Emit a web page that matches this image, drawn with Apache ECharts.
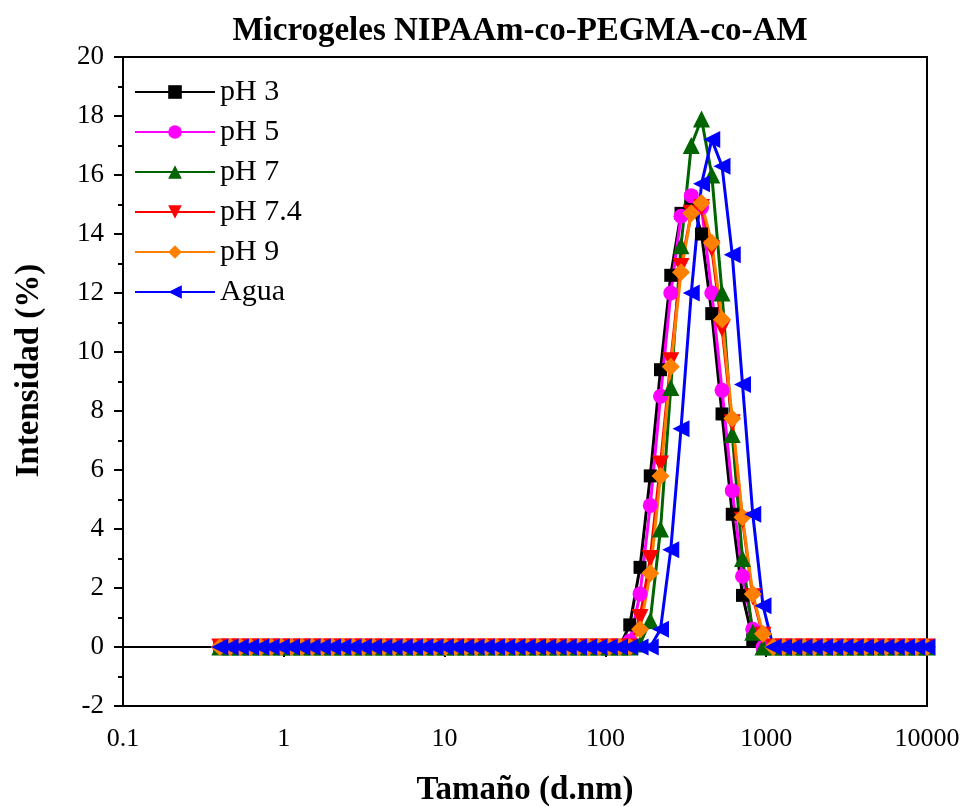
<!doctype html>
<html>
<head>
<meta charset="UTF-8">
<title>Microgeles NIPAAm-co-PEGMA-co-AM</title>
<script src="https://cdn.jsdelivr.net/npm/echarts@6/dist/echarts.min.js"></script>
<style>
  html, body { margin: 0; padding: 0; background: #fff; }
  #main { width: 966px; height: 807px; }
</style>
</head>
<body>
<div id="main"></div>
<script>
// clases de tamaño (d.nm) del equipo DLS
var sizes = [0.4, 0.4632, 0.5365, 0.6213, 0.7195, 0.8332, 0.9649, 1.117, 1.294, 1.499,
  1.736, 2.01, 2.328, 2.696, 3.122, 3.615, 4.187, 4.849, 5.615, 6.503,
  7.531, 8.721, 10.1, 11.7, 13.54, 15.69, 18.17, 21.04, 24.36, 28.21,
  32.67, 37.84, 43.82, 50.75, 58.77, 68.06, 78.82, 91.28, 105.7, 122.4,
  141.8, 164.2, 190.1, 220.2, 255.0, 295.3, 342.0, 396.1, 458.7, 531.2,
  615.1, 712.4, 825.0, 955.4, 1106, 1281, 1484, 1718, 1990, 2305,
  2669, 3091, 3580, 4145, 4801, 5560, 6439, 7456, 8635, 10000];

// intensidad (%)
var pH3 = [0,0,0,0,0,0,0,0,0,0, 0,0,0,0,0,0,0,0,0,0, 0,0,0,0,0,0,0,0,0,0, 0,0,0,0,0,0,0,0,0,0,
  0.75, 2.7, 5.8, 9.4, 12.6, 14.7, 15.2, 14.0, 11.3, 7.9, 4.5, 1.75, 0.25, 0,
  0,0,0,0,0,0,0,0,0,0,0,0,0,0,0,0];
var pH5 = [0,0,0,0,0,0,0,0,0,0, 0,0,0,0,0,0,0,0,0,0, 0,0,0,0,0,0,0,0,0,0, 0,0,0,0,0,0,0,0,0,0,
  0.2, 1.8, 4.8, 8.5, 12.0, 14.6, 15.3, 14.9, 12.0, 8.7, 5.3, 2.4, 0.6, 0,
  0,0,0,0,0,0,0,0,0,0,0,0,0,0,0,0];
var pH7 = [0,0,0,0,0,0,0,0,0,0, 0,0,0,0,0,0,0,0,0,0, 0,0,0,0,0,0,0,0,0,0, 0,0,0,0,0,0,0,0,0,0,
  0, 0.1, 0.9, 4.0, 8.8, 13.6, 17.0, 17.9, 16.0, 12.0, 7.2, 3.0, 0.5, 0,
  0,0,0,0,0,0,0,0,0,0,0,0,0,0,0,0];
var pH74 = [0,0,0,0,0,0,0,0,0,0, 0,0,0,0,0,0,0,0,0,0, 0,0,0,0,0,0,0,0,0,0, 0,0,0,0,0,0,0,0,0,0,
  0, 1.0, 3.0, 6.2, 9.7, 12.9, 14.7, 14.9, 13.5, 10.8, 7.6, 4.3, 1.7, 0.4,
  0,0,0,0,0,0,0,0,0,0,0,0,0,0,0,0];
var pH9 = [0,0,0,0,0,0,0,0,0,0, 0,0,0,0,0,0,0,0,0,0, 0,0,0,0,0,0,0,0,0,0, 0,0,0,0,0,0,0,0,0,0,
  0, 0.6, 2.5, 5.8, 9.5, 12.7, 14.7, 15.05, 13.7, 11.1, 7.75, 4.4, 1.8, 0.45,
  0,0,0,0,0,0,0,0,0,0,0,0,0,0,0,0];
var agua = [0,0,0,0,0,0,0,0,0,0, 0,0,0,0,0,0,0,0,0,0, 0,0,0,0,0,0,0,0,0,0, 0,0,0,0,0,0,0,0,0,0,
  0, 0, 0, 0.6, 3.3, 7.4, 12.0, 15.7, 17.2, 16.3, 13.3, 8.9, 4.5, 1.4,
  0,0,0,0,0,0,0,0,0,0,0,0,0,0,0,0];

var xTickLabels = ['0.1', '1', '10', '100', '1000', '10000'];

var FONT = 'Liberation Serif';

function pares(vals) {
  var out = [];
  for (var i = 0; i < sizes.length; i++) out.push([sizes[i], vals[i]]);
  return out;
}

function serie(name, vals, color, symbol, rot, size) {
  return {
    name: name,
    type: 'line',
    data: pares(vals),
    symbol: symbol,
    symbolRotate: rot,
    symbolSize: size,
    showAllSymbol: true,
    lineStyle: { color: color, width: 3 },
    itemStyle: { color: color },
    emphasis: { disabled: true },
    animation: false
  };
}

var myChart = echarts.init(document.getElementById('main'));

var option = {
  backgroundColor: '#fff',
  title: {
    text: 'Microgeles NIPAAm-co-PEGMA-co-AM',
    left: 515,
    textAlign: 'center',
    top: 10,
    textStyle: { fontFamily: FONT, fontWeight: 'bold', fontSize: 33, color: '#000' }
  },
  legend: {
    orient: 'vertical',
    left: 129,
    top: 72,
    itemWidth: 80,
    itemHeight: 17,
    itemGap: 10,
    textStyle: { fontFamily: FONT, fontSize: 30, color: '#000', lineHeight: 30 },
    data: ['pH 3', 'pH 5', 'pH 7', 'pH 7.4', 'pH 9', 'Agua']
  },
  grid: {
    left: 123, right: 39, top: 57, bottom: 101,
    outerBoundsMode: 'none',
    show: true, borderColor: '#000', borderWidth: 2, backgroundColor: 'transparent'
  },
  xAxis: {
    type: 'log',
    logBase: 10,
    min: 0.1,
    max: 10000,
    name: 'Tamaño (d.nm)',
    nameLocation: 'middle',
    nameGap: 68,
    nameTextStyle: { fontFamily: FONT, fontWeight: 'bold', fontSize: 33, color: '#000' },
    axisLine: { lineStyle: { color: '#000', width: 2 } },
    axisTick: { inside: false, length: 10, lineStyle: { width: 2 } },
    minorTick: { show: false },
    splitLine: { show: false },
    axisLabel: {
      margin: 20,
      fontFamily: FONT, fontSize: 26, color: '#000',
      formatter: function (v, i) { return xTickLabels[i]; }
    }
  },
  yAxis: {
    type: 'value',
    min: -2,
    max: 20,
    interval: 2,
    name: 'Intensidad (%)',
    nameLocation: 'middle',
    nameGap: 77,
    nameTextStyle: { fontFamily: FONT, fontWeight: 'bold', fontSize: 33, color: '#000', padding: [0, 0, 0, 22] },
    axisLine: { lineStyle: { color: '#000', width: 2 } },
    axisTick: { inside: false, length: 9, lineStyle: { width: 2 } },
    minorTick: { show: true, splitNumber: 2, length: 5, lineStyle: { color: '#000', width: 2 } },
    splitLine: { show: false },
    axisLabel: { margin: 19, fontFamily: FONT, fontSize: 27, color: '#000' }
  },
  series: [
    serie('pH 3', pH3, '#000000', 'rect', 0, 13),
    serie('pH 5', pH5, '#ff00ff', 'circle', 0, 15),
    serie('pH 7', pH7, '#006400', 'triangle', 0, 17),
    serie('pH 7.4', pH74, '#ff0000', 'triangle', 180, 17),
    serie('pH 9', pH9, '#ff8000', 'diamond', 0, 18),
    serie('Agua', agua, '#0000ff', 'triangle', 90, 17)
  ]
};

myChart.setOption(option);
</script>
</body>
</html>
